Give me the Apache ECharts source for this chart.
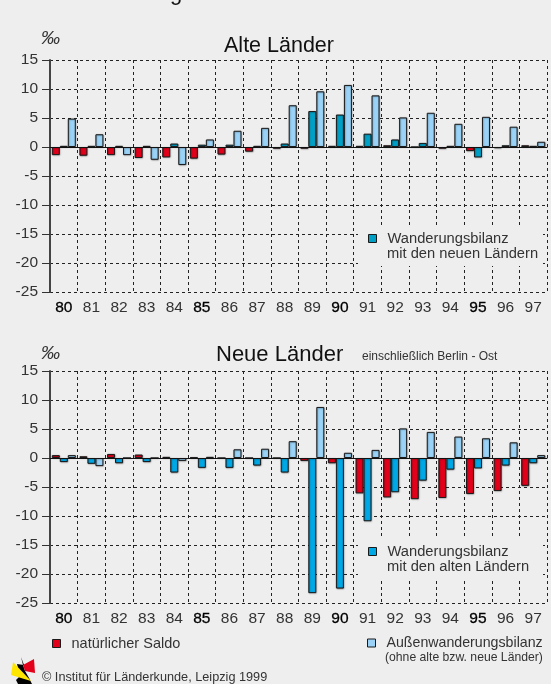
<!DOCTYPE html>
<html><head><meta charset="utf-8">
<style>html,body{margin:0;padding:0;background:#eeeeee}#c{width:551px;height:684px}</style>
<script src="https://cdn.jsdelivr.net/npm/echarts@6/dist/echarts.min.js"></script>
</head><body><div id="c"></div>
<script>
const years = ['80','81','82','83','84','85','86','87','88','89','90','91','92','93','94','95','96','97'];
const strongYears = ['80','85','90','95'];
const alteSaldo = [-1.4,-1.5,-1.4,-1.9,-1.8,-2.0,-1.3,-0.8,-0.3,-0.3,0.2,0.2,0.3,0,-0.3,-0.7,-0.2,0.3];
const alteWanderung = [0.2,0.2,0.2,0.2,0.6,0.4,0.4,0.2,0.6,6.2,5.6,2.3,1.3,0.7,0.2,-1.8,0.3,0.2];
const alteAussen = [4.9,2.2,-1.4,-2.2,-3.1,1.3,2.8,3.3,7.2,9.6,10.7,8.9,5.1,5.9,4.0,5.2,3.5,0.9];
const neueSaldo = [0.5,0.3,0.7,0.6,0.2,0.1,0,0,0,-0.5,-0.9,-6.1,-6.8,-7.1,-6.9,-6.2,-5.7,-4.8];
const neueWanderung = [-0.7,-1.0,-0.9,-0.7,-2.5,-1.7,-1.7,-1.3,-2.5,-23.3,-22.5,-10.9,-5.9,-3.9,-2.0,-1.8,-1.3,-0.9];
const neueAussen = [0.5,-1.4,0,0,-0.5,0.2,1.5,1.6,2.9,8.8,0.9,1.4,5.1,4.5,3.7,3.4,2.7,0.5];

const BG='#eeeeee', TXT='#333333', FONT='"Liberation Sans", Arial, sans-serif';
const RED='#e2001a', TEAL='#00a0c6', BLUE='#00a8e6', LIGHT='#9ad3f7';
const N_SALDO='natürlicher Saldo', N_AUSSEN='Außenwanderungsbilanz',
      N_W_ALT='Wanderungsbilanz mit den neuen Ländern', N_W_NEU='Wanderungsbilanz mit den alten Ländern';

const catData = years.map(y => ({value:y, textStyle: strongYears.includes(y) ? {color:'#000', textBorderColor:'#000', textBorderWidth:0.3} : {color:TXT}}));
const dash = {color:'#222', width:1, type:[3,3]};

function xAxes(i){
  return [
    {gridIndex:i, type:'category', data:catData, position:'bottom', boundaryGap:true,
     axisLine:{show:false, onZero:false}, axisTick:{show:false},
     axisLabel:{interval:0, fontSize:15.5, fontFamily:FONT, margin:8, color:TXT},
     splitLine:{show:true, interval:0, lineStyle:dash}},
    {gridIndex:i, type:'category', data:years, position:'top', z:4,
     axisLine:{show:true, onZero:true, lineStyle:{color:'#111', width:1}},
     axisTick:{show:false}, axisLabel:{show:false}, splitLine:{show:false}}
  ];
}
function yAxis(i){
  return {gridIndex:i, type:'value', min:-25, max:15, interval:5,
    axisLine:{show:true, onZero:false, lineStyle:{color:'#444', width:2}},
    axisTick:{show:true, length:8, inside:false, lineStyle:{color:'#333', width:1}},
    axisLabel:{fontSize:15.5, fontFamily:FONT, color:TXT, margin:12},
    splitLine:{show:true, lineStyle:dash}};
}
function bar(name, data, color, i){
  return {name, type:'bar', data, xAxisIndex:i*2, yAxisIndex:i, barWidth:8, barGap:'0%', z:3,
    itemStyle:{color, borderColor:'#1a1a1a', borderWidth:1, shadowColor:'rgba(0,0,0,0.4)', shadowBlur:1.5, shadowOffsetX:0.5, shadowOffsetY:0.5},
    emphasis:{disabled:true}, animation:false};
}
function legend(name, left, top, label, fontSize){
  return {data:[name], left, top, padding:0, orient:'horizontal', icon:'rect', itemWidth:8, itemHeight:8,
    selectedMode:false, z:6,
    formatter:()=>label,
    itemStyle:{borderColor:'#1a1a1a', borderWidth:1},
    textStyle:{fontSize, fontFamily:FONT, color:TXT, padding:[0,0,0,6]}};
}
function txt(x,y,text,o={}){
  return {type:'text', x, y, z:7, silent:true, style:Object.assign({text, fill:TXT, font:'13px '+FONT, textAlign:'left', textVerticalAlign:'middle'}, o)};
}
function mask(x,y,width,height){
  return {type:'rect', x, y, z:1, silent:true, shape:{width,height}, style:{fill:BG}};
}
function poly(points, fill){
  return {type:'polygon', z:7, silent:true, shape:{points}, style:{fill}};
}

const chart = echarts.init(document.getElementById('c'), null, {renderer:'canvas'});
chart.setOption({
  backgroundColor:BG, animation:false, tooltip:{show:false},
  grid:[{left:50, top:60, width:497, height:232},{left:50, top:371, width:497, height:232}],
  xAxis:[...xAxes(0), ...xAxes(1)],
  yAxis:[yAxis(0), yAxis(1)],
  series:[
    bar(N_SALDO, alteSaldo, RED, 0), bar(N_W_ALT, alteWanderung, TEAL, 0), bar(N_AUSSEN, alteAussen, LIGHT, 0),
    bar(N_SALDO, neueSaldo, RED, 1), bar(N_W_NEU, neueWanderung, BLUE, 1), bar(N_AUSSEN, neueAussen, LIGHT, 1)
  ],
  legend:[
    legend(N_W_ALT, 368, 231, 'Wanderungsbilanz', 14.7),
    legend(N_W_NEU, 368, 544, 'Wanderungsbilanz', 14.7),
    legend(N_SALDO, 52, 636, 'natürlicher Saldo', 14.5),
    legend(N_AUSSEN, 367, 636, 'Außenwanderungsbilanz', 14.2)
  ],
  graphic:[
    mask(358,225,185,41), mask(358,536,185,42),
    txt(176,5,'g',{font:'22px '+FONT, fill:'#111', textAlign:'center', textVerticalAlign:'bottom'}),
    txt(41,39,'‰',{font:'italic 19px '+FONT}),
    txt(41,354,'‰',{font:'italic 19px '+FONT}),
    txt(279,46,'Alte Länder',{font:'21.5px '+FONT, fill:'#111', textAlign:'center'}),
    txt(216,355,'Neue Länder',{font:'22px '+FONT, fill:'#111'}),
    txt(362,357,'einschließlich Berlin - Ost',{font:'12px '+FONT}),
    txt(387,254,'mit den neuen Ländern',{font:'14.7px '+FONT}),
    txt(387,567,'mit den alten Ländern',{font:'14.7px '+FONT}),
    txt(385,658,'(ohne alte bzw. neue Länder)',{font:'12.2px '+FONT}),
    txt(42,677,'© Institut für Länderkunde, Leipzig 1999',{font:'12.7px '+FONT}),
    poly([[21,657],[24,665],[17,664],[20,676],[16,680],[18,684],[32,684],[29,678],[25,671],[23,665]],'#000'),
    poly([[23,665],[34,659],[35,673],[25,671]],RED),
    poly([[13,662],[31,681],[11,675]],'#ffe600')
  ]
});
</script></body></html>
